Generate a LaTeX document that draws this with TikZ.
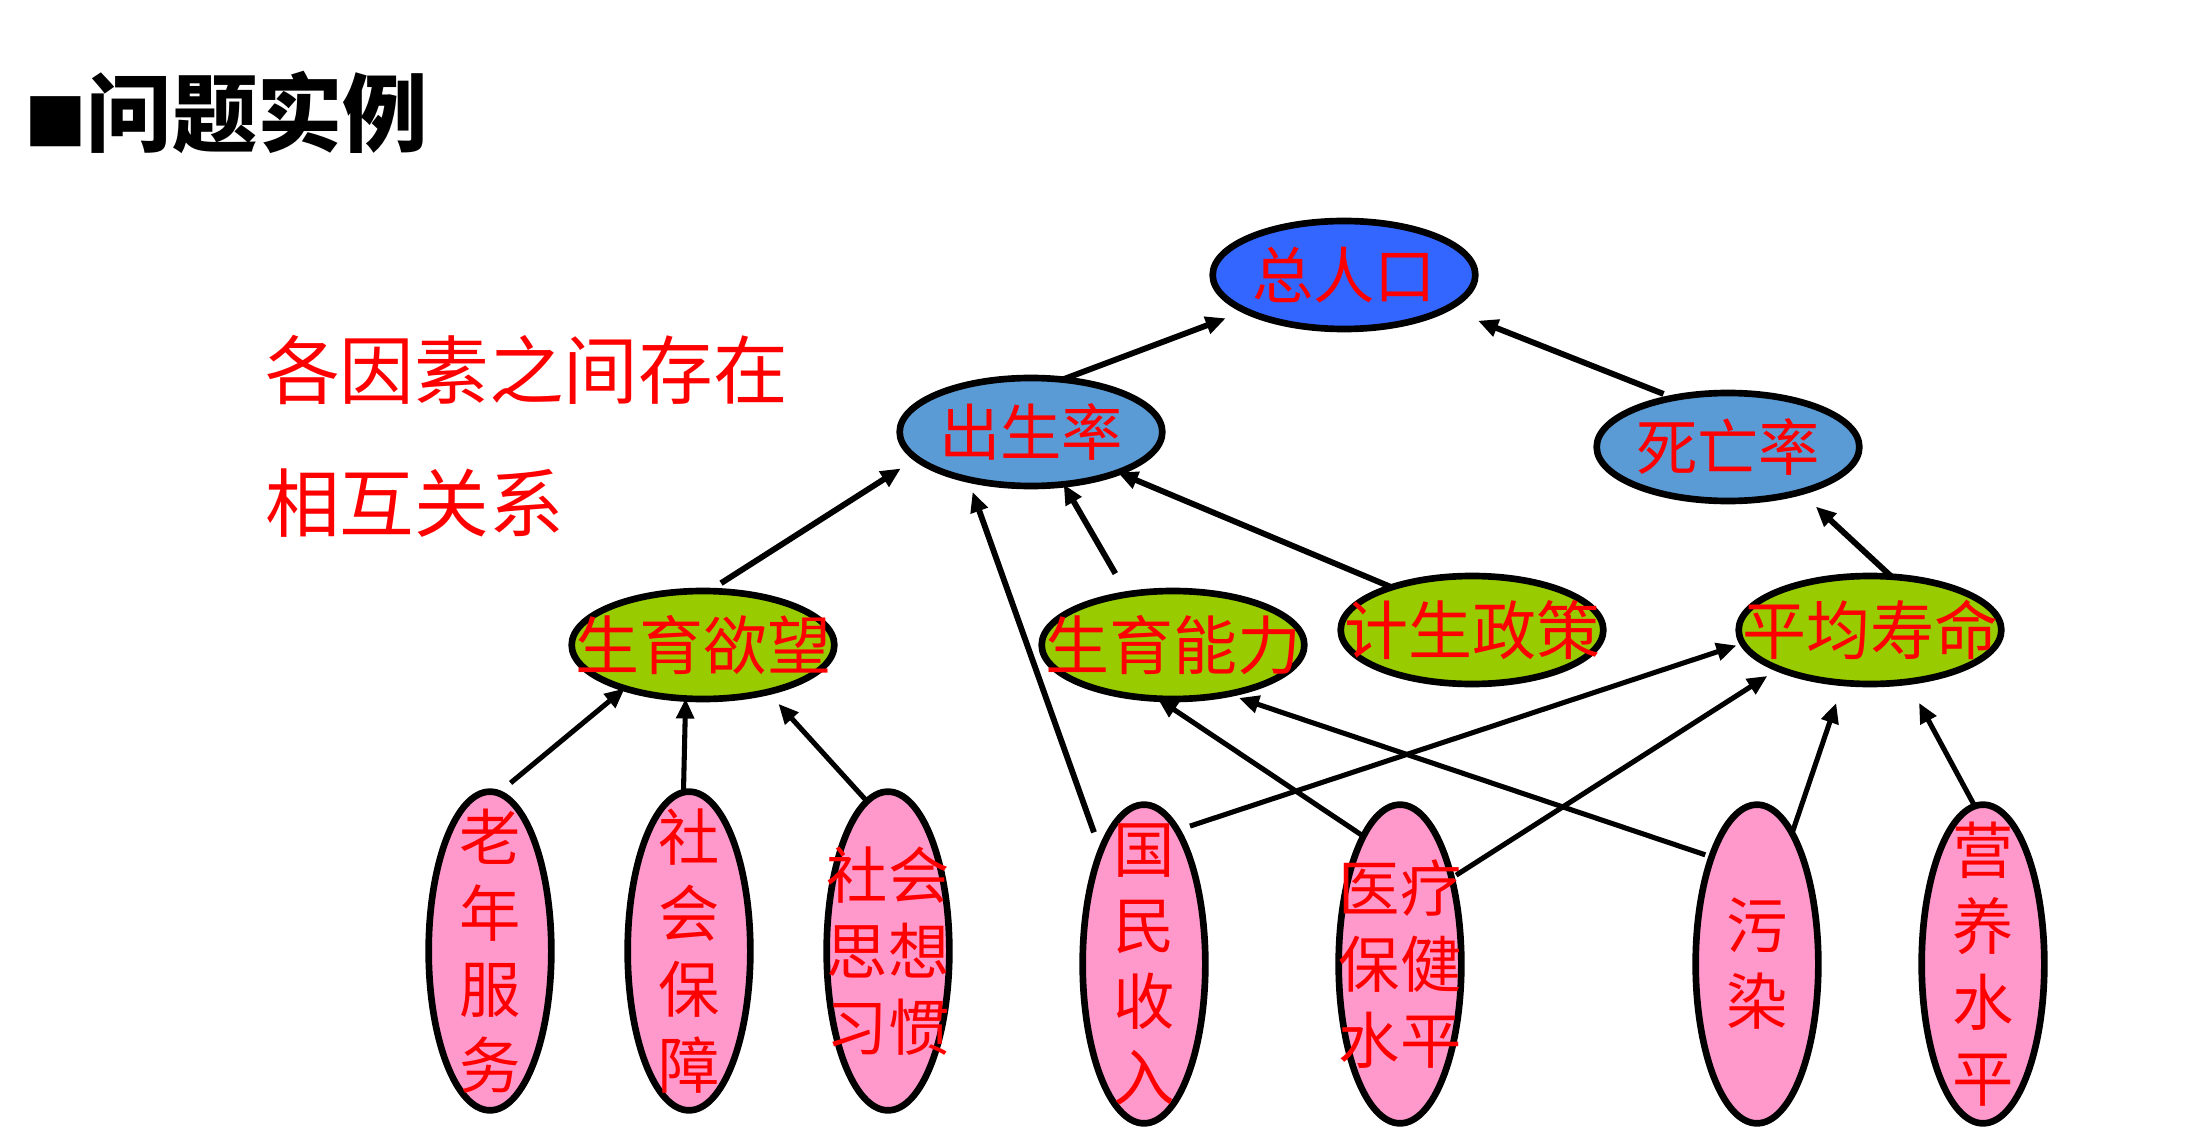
\documentclass[tikz,border=0pt]{standalone}
\usepackage{fontspec}
\newfontfamily\cjk{Noto Sans CJK SC}
\usetikzlibrary{shapes.geometric,arrows.meta}

\definecolor{rkblue}{RGB}{51,102,255}
\definecolor{rksteel}{RGB}{91,155,213}
\definecolor{rkgreen}{RGB}{153,204,0}
\definecolor{rkpink}{RGB}{255,153,204}

\tikzset{
	bub/.style={draw=black, ellipse, line width=5pt, inner sep=0pt, outer sep=0pt},
	bigbub/.style={bub, minimum width=197pt, minimum height=81pt},
	longbub/.style={bub, fill=rkpink, minimum width=92pt, minimum height=239pt},
	redtxt/.style={text=red, font=\cjk\fontsize{46}{57}\selectfont, align=center, inner sep=0pt},
	greentxt/.style={redtxt, font=\cjk\fontsize{48}{57}\selectfont},
	arr/.style={line width=3.8pt, -{Triangle[length=15pt,width=13pt]}},
	toparr/.style={arr, line width=4.4pt},
}

\begin{document}
\begin{tikzpicture}[x=0.75pt,y=0.75pt,yscale=-1,xscale=1]
		\useasboundingbox (0,0) rectangle (2190,1144);
		
		% Text Node
		\node[anchor=west, inner sep=0pt, font=\cjk\bfseries\fontsize{64}{70}\selectfont] (ttl) at (24,112) {{\fontsize{47}{50}\selectfont ■}问题实例};
		% Text Node
		\node[anchor=west, inner sep=0pt, text=red, font=\cjk\fontsize{56}{60}\selectfont] (note1) at (265,370) {各因素之间存在};
		\node[anchor=west, inner sep=0pt, text=red, font=\cjk\fontsize{56}{60}\selectfont] (note2) at (265,503) {相互关系};
		
		%Shape: Ellipse
		\node[bigbub, fill=rkblue, label={[redtxt]center:总人口}] (tot) at (1344,275) {};
		\node[bigbub, fill=rksteel, label={[redtxt]center:出生率}] (csl) at (1031,432) {};
		\node[bigbub, fill=rksteel, label={[redtxt]center:死亡率}] (swl) at (1728,447) {};
		%Shape: Ellipse
		\node[bigbub, fill=rkgreen, label={[greentxt]center:生育欲望}] (syyw) at (703,645) {};
		\node[bigbub, fill=rkgreen, label={[greentxt]center:生育能力}] (synl) at (1173,645) {};
		\node[bigbub, fill=rkgreen, label={[greentxt]center:计生政策}] (jszc) at (1472,630) {};
		\node[bigbub, fill=rkgreen, label={[greentxt]center:平均寿命}] (pjsm) at (1870,630) {};
		%Shape: Ellipse
		\node[longbub, label={[redtxt]center:老\\年\\服\\务}] (lnfw) at (490,951) {};
		\node[longbub, label={[redtxt]center:社\\会\\保\\障}] (shbz) at (689,951) {};
		\node[longbub, label={[redtxt]center:社会\\思想\\习惯}] (shsx) at (888,951) {};
		\node[longbub, label={[redtxt]center:国\\民\\收\\入}] (gmsr) at (1144,964) {};
		\node[longbub, label={[redtxt]center:医疗\\保健\\水平}] (ylbj) at (1400,964) {};
		\node[longbub, label={[redtxt]center:污\\染}] (wr) at (1757,964) {};
		\node[longbub, label={[redtxt]center:营\\养\\水\\平}] (yysp) at (1983,964) {};
		
		%Straight Lines
		\draw[toparr, shorten >=16pt] (csl.59) -- (tot.200);
		\draw[toparr, shorten <=8pt, shorten >=25pt] (swl.138) -- (tot.342);
		%Straight Lines
		\draw[toparr, shorten <=11pt, shorten >=14pt] (syyw.84) -- (csl.193);
		\draw[toparr, shorten <=15pt, shorten >=10pt] (gmsr.111) -- (csl.217);
		\draw[toparr, shorten <=18pt] (synl.132) -- (csl.302);
		\draw[toparr] (jszc.152) -- (csl.335);
		\draw[toparr, shorten >=16pt] (pjsm.68) -- (swl.328);
		%Straight Lines
		\draw[arr, shorten <=12pt] (lnfw.87) -- (syyw.209);
		\draw[arr] (shbz.92) -- (syyw.252);
		\draw[arr, shorten >=12pt] (shsx.98) -- (syyw.324);
		\draw[arr, shorten <=10pt, shorten >=5pt] (gmsr.76) -- (pjsm.186);
		\draw[arr] (ylbj.106) -- (synl.254);
		\draw[arr, shorten <=4pt, shorten >=10pt] (ylbj.59) -- (pjsm.203);
		\draw[arr, shorten <=5pt, shorten >=9pt] (wr.113) -- (synl.318);
		\draw[arr, shorten >=16pt] (wr.75) -- (pjsm.243);
		\draw[arr, shorten >=18pt] (yysp.93) -- (pjsm.306);
		
\end{tikzpicture}
\end{document}
